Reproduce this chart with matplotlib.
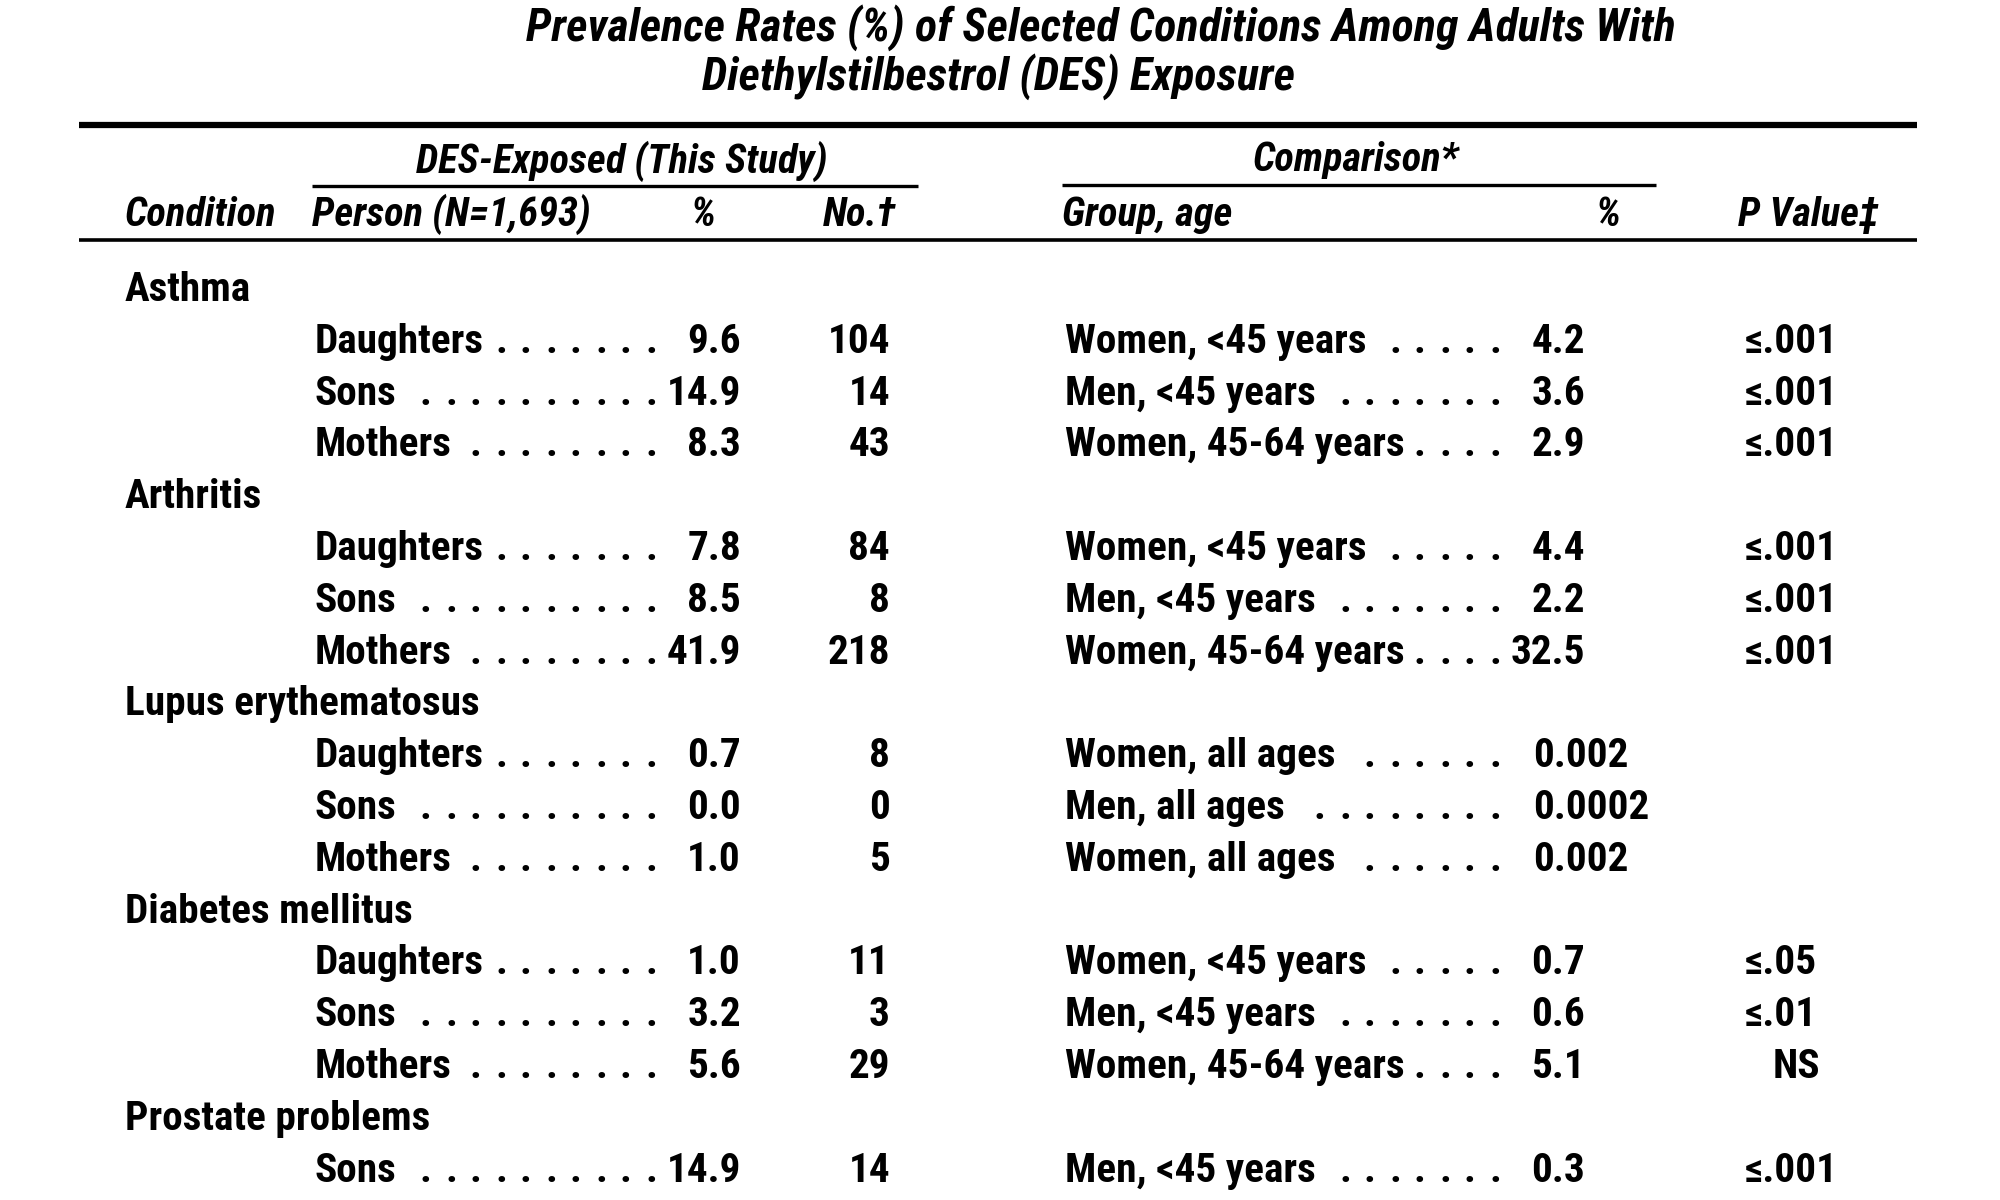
import matplotlib
matplotlib.use('Agg')
import matplotlib.pyplot as plt
from matplotlib import font_manager as fm

# Table content
title_lines = ['Prevalence Rates (%) of Selected Conditions Among Adults With',
               'Diethylstilbestrol (DES) Exposure']
conditions = ['Asthma', 'Arthritis', 'Lupus erythematosus', 'Diabetes mellitus',
              'Prostate problems']
rows_per_condition = [3, 3, 3, 3, 1]
persons = ['Daughters', 'Sons', 'Mothers', 'Daughters', 'Sons', 'Mothers',
           'Daughters', 'Sons', 'Mothers', 'Daughters', 'Sons', 'Mothers', 'Sons']
des_pct = ['9.6', '14.9', '8.3', '7.8', '8.5', '41.9', '0.7', '0.0', '1.0',
           '1.0', '3.2', '5.6', '14.9']
des_no = [104, 14, 43, 84, 8, 218, 8, 0, 5, 11, 3, 29, 14]
groups = ['Women, <45 years', 'Men, <45 years', 'Women, 45-64 years',
          'Women, <45 years', 'Men, <45 years', 'Women, 45-64 years',
          'Women, all ages', 'Men, all ages', 'Women, all ages',
          'Women, <45 years', 'Men, <45 years', 'Women, 45-64 years',
          'Men, <45 years']
cmp_pct = ['4.2', '3.6', '2.9', '4.4', '2.2', '32.5', '0.002', '0.0002', '0.002',
           '0.7', '0.6', '5.1', '0.3']
p_values = ['≤.001', '≤.001', '≤.001', '≤.001', '≤.001', '≤.001', '', '', '',
            '≤.05', '≤.01', 'NS', '≤.001']

# pick a narrow sans face if one is installed
names = {f.name for f in fm.fontManager.ttflist}
stretches = {(f.name, f.stretch) for f in fm.fontManager.ttflist}
font_name, font_stretch = 'Liberation Sans', 'normal'
for cand in ['Liberation Sans Narrow', 'Roboto Condensed', 'Open Sans Condensed',
             'Noto Sans Condensed', 'DejaVu Sans Condensed']:
    if cand in names:
        font_name = cand
        break
else:
    for nm, st in stretches:
        if nm in ('DejaVu Sans', 'Noto Sans', 'Open Sans', 'Roboto') and \
                st in ('condensed', 'semi-condensed', 'extra-condensed', 500, 600, 700):
            font_name, font_stretch = nm, 'condensed'
            break
if font_name not in names:
    font_name = 'DejaVu Sans'
FAM = [font_name, 'DejaVu Sans']

# Layout (pixel units, y down)
W, H = 2000, 1200
x_left, x_right = 79, 1917
x_cond = 125
x_person = 315
x_lead1 = 657
x_pct1 = 741
x_no = 890
x_group = 1065
x_lead2 = 1501
x_pct2_l, x_pct2_r = 1533, 1585
x_p_l, x_p_c = 1745, 1796

y_first = 301
y_step = 51.8
dot_gap = 25

fig = plt.figure(figsize=(20, 12), dpi=100)
ax = fig.add_axes([0, 0, 1, 1])
ax.set_xlim(0, W)
ax.set_ylim(H, 0)
ax.axis('off')
renderer = fig.canvas.get_renderer()
inv = ax.transData.inverted()


def fit_size(s, target_w, max_size, **kw):
    # font size giving the reference width for a sample string
    t = ax.text(0, 0, s, fontsize=20, family=FAM, fontstretch=font_stretch, **kw)
    w = t.get_window_extent(renderer=renderer).width
    t.remove()
    return min(max_size, 20 * target_w / w)


fs_body = fit_size('Daughters', 159, 31, weight='bold') * 1.06
fs_head = fit_size('Person (N=1,693)', 270, 31, weight='bold', style='italic') * 1.03
fs_title = fit_size(title_lines[0], 1148, 38, weight='bold', style='italic')

base = dict(family=FAM, fontstretch=font_stretch, weight='bold')

# title
ax.text(1101, 28, title_lines[0], ha='center', va='center', fontsize=fs_title,
        style='italic', **base)
ax.text(999, 77, title_lines[1], ha='center', va='center', fontsize=fs_title,
        style='italic', **base)

# rules
ax.plot([x_left, x_right], [125, 125], color='black', lw=4.5, solid_capstyle='butt')
ax.plot([x_left, x_right], [240, 240], color='black', lw=2.6, solid_capstyle='butt')
ax.plot([312, 918], [186, 186], color='black', lw=2.4, solid_capstyle='butt')
ax.plot([1062, 1656], [185, 185], color='black', lw=2.4, solid_capstyle='butt')

# header text
hk = dict(fontsize=fs_head, style='italic', va='baseline', **base)
ax.text(622, 173, 'DES-Exposed (This Study)', ha='center', **hk)
ax.text(1356, 171, 'Comparison*', ha='center', **hk)
y_h = 226
ax.text(x_cond, y_h, 'Condition', ha='left', **hk)
ax.text(312, y_h, 'Person (N=1,693)', ha='left', **hk)
ax.text(703, y_h, '%', ha='center', **hk)
ax.text(860, y_h, 'No.†', ha='center', **hk)
ax.text(1062, y_h, 'Group, age', ha='left', **hk)
ax.text(1608, y_h, '%', ha='center', **hk)
ax.text(1809, y_h, 'P Value‡', ha='center', **hk)

bk = dict(fontsize=fs_body, va='baseline', **base)


def leader(label_artist, x_end, y):
    # dot leader from end of label to x_end
    bb = label_artist.get_window_extent(renderer=renderer)
    x_start = inv.transform((bb.x1, bb.y0))[0] + 18
    x = x_end
    while x >= x_start:
        ax.text(x, y, '.', ha='right', **bk)
        x -= dot_gap


def left_edge(artist):
    bb = artist.get_window_extent(renderer=renderer)
    return inv.transform((bb.x0, bb.y0))[0]


row = 0
i = 0
for cond, n in zip(conditions, rows_per_condition):
    y = y_first + row * y_step
    ax.text(x_cond, y, cond, ha='left', **bk)
    row += 1
    for _ in range(n):
        y = y_first + row * y_step
        t = ax.text(x_person, y, persons[i], ha='left', **bk)
        vt = ax.text(x_pct1, y, des_pct[i], ha='right', **bk)
        leader(t, min(x_lead1, left_edge(vt) - 4), y)
        ax.text(x_no, y, str(des_no[i]), ha='right', **bk)

        g = ax.text(x_group, y, groups[i], ha='left', **bk)
        if len(cmp_pct[i]) <= 4:
            ct = ax.text(x_pct2_r, y, cmp_pct[i], ha='right', **bk)
        else:
            ct = ax.text(x_pct2_l, y, cmp_pct[i], ha='left', **bk)
        leader(g, min(x_lead2, left_edge(ct) - 4), y)

        if p_values[i] == 'NS':
            ax.text(x_p_c, y, p_values[i], ha='center', **bk)
        elif p_values[i]:
            ax.text(x_p_l, y, p_values[i], ha='left', **bk)
        row += 1
        i += 1

fig.savefig('out.png', dpi=100, facecolor='white')
